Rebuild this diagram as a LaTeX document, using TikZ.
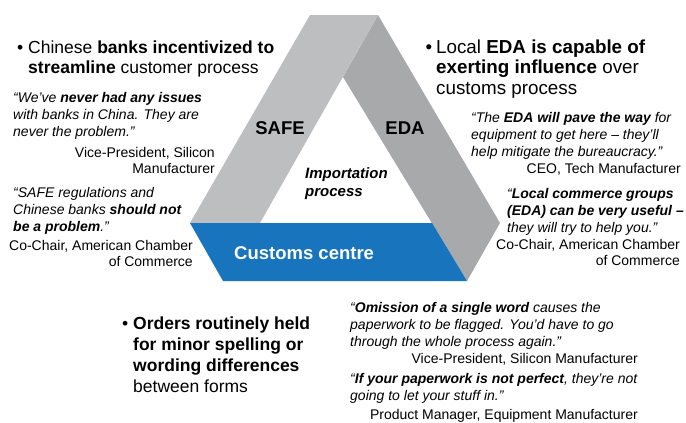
\documentclass[tikz,border=0pt]{standalone}
\usepackage{fontspec}
\setmainfont{Liberation Sans}
\definecolor{lgray}{HTML}{BCBEC0}
\definecolor{dgray}{HTML}{A7A9AB}
\definecolor{cblue}{HTML}{1874BC}
\tikzset{
 bul/.style={font=\fontsize{17.5}{20.5}\selectfont, align=left, anchor=base west, inner sep=0pt},
 quo/.style={font=\fontsize{14}{17}\selectfont\itshape, align=left, anchor=base west, inner sep=0pt},
 att/.style={font=\fontsize{14}{16.5}\selectfont, align=right, anchor=base east, inner sep=0pt},
 lab/.style={font=\fontsize{18.5}{20}\selectfont\bfseries, inner sep=0pt},
}
\begin{document}
\begin{tikzpicture}[x=1pt,y=-1pt]
\useasboundingbox (0,0) rectangle (686,423);
% triangle bands
\fill[dgray] (378,15) -- (500,223) -- (467,281) -- (343,77) -- cycle;
\fill[lgray] (310,15) -- (378,15) -- (260,223) -- (190,223) -- cycle;
\fill[cblue] (190,223) -- (432,223) -- (467,281) -- (223,281) -- cycle;
% band labels
\node[lab, anchor=base] (safe) at (280,134) {SAFE};
\node[lab, anchor=base] (eda) at (405,134) {EDA};
\node[lab, anchor=base west, text=white] (cust) at (234,259.5) {Customs centre};
\node[font=\fontsize{15}{18}\selectfont\bfseries\itshape, align=left, anchor=base west, inner sep=0pt] (imp) at (305,196) {Importation\\process};
% left
\node[bul] (b1) at (28,73.5) {\llap{\textbullet\hspace{5pt}}Chinese \textbf{banks incentivized to}\\\textbf{streamline} customer process};
\node[quo] (q1) at (13,136) {“We’ve \textbf{never had any issues}\\with banks in China. They are\\never the problem.”};
\node[att] (a1) at (215,173.5) {Vice-President, Silicon\\Manufacturer};
\node[quo] (q2) at (13,231) {“SAFE regulations and\\Chinese banks \textbf{should not}\\\textbf{be a problem}.”};
\node[att] (a2) at (193,266.5) {Co-Chair, American Chamber\\of Commerce};
% right
\node[bul, font=\fontsize{18.8}{20.5}\selectfont] (b2) at (436,94) {\llap{\textbullet\hspace{4pt}}Local \textbf{EDA is capable of}\\\textbf{exerting influence} over\\customs process};
\node[quo] (q3) at (471,156) {“The \textbf{EDA will pave the way} for\\equipment to get here – they’ll\\help mitigate the bureaucracy.”};
\node[att] (a3) at (681,173) {CEO, Tech Manufacturer};
\node[quo] (q4) at (507,232) {“\textbf{Local commerce groups}\\\textbf{(EDA) can be very useful –}\\they will try to help you.”};
\node[att] (a4) at (680,265.5) {Co-Chair, American Chamber\\of Commerce};
% bottom
\node[bul, font=\fontsize{17.5}{21}\selectfont] (b3) at (133,392) {\llap{\textbullet\hspace{5pt}}\textbf{Orders routinely held}\\\textbf{for minor spelling or}\\\textbf{wording differences}\\between forms};
\node[quo] (q5) at (350,346) {“\textbf{Omission of a single word} causes the\\paperwork to be flagged. You’d have to go\\through the whole process again.”};
\node[att] (a5) at (638,363) {Vice-President, Silicon Manufacturer};
\node[quo] (q6) at (350,400) {“\textbf{If your paperwork is not perfect}, they’re not\\going to let your stuff in.”};
\node[att] (a6) at (638,419) {Product Manager, Equipment Manufacturer};
\end{tikzpicture}
\end{document}
